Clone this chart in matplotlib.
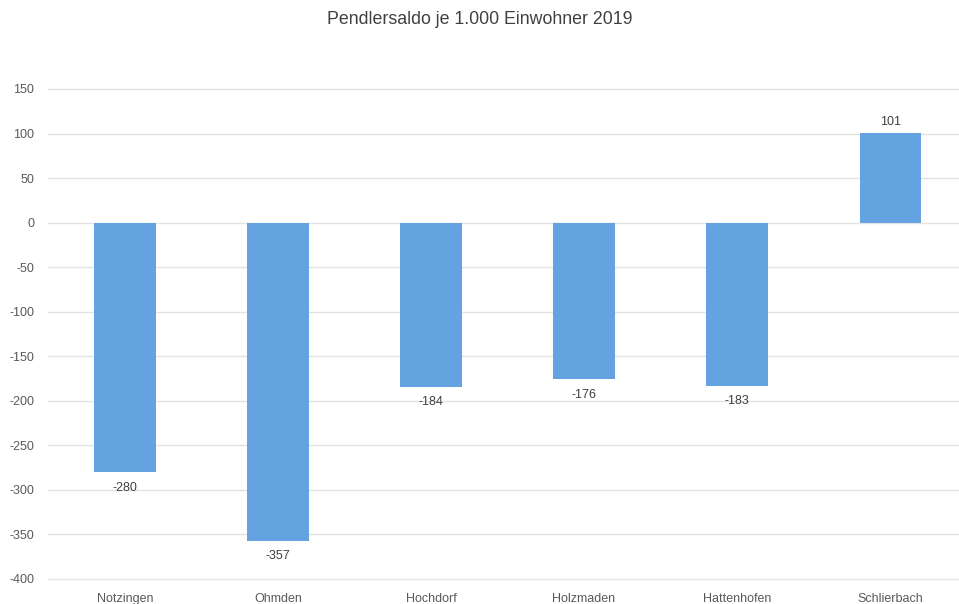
import numpy as np
import matplotlib.pyplot as plt

plt.rcParams['font.family'] = ['Liberation Sans', 'DejaVu Sans']
plt.rcParams['axes.unicode_minus'] = False

# Daten
orte = ['Notzingen', 'Ohmden', 'Hochdorf', 'Holzmaden', 'Hattenhofen', 'Schlierbach']
saldo = [-280, -357, -184, -176, -183, 101]
y_ticks = list(range(-400, 151, 50))

fig = plt.figure(figsize=(9.59, 6.04), dpi=100)
ax = fig.add_axes([0.05, 0.0414, 0.95, 0.8113])

x = np.arange(len(orte))
bars = ax.bar(x, saldo, width=0.4, color='#64a3df', zorder=3)

for xi, v in zip(x, saldo):
    if v < 0:
        ax.annotate(str(v), (xi, v), xytext=(0, -7), textcoords='offset points',
                    ha='center', va='top', fontsize=9, color='#404040')
    else:
        ax.annotate(str(v), (xi, v), xytext=(0, 3), textcoords='offset points',
                    ha='center', va='bottom', fontsize=9, color='#404040')

ax.set_ylim(-400, 150)
ax.set_xlim(-0.503, 5.45)
ax.set_yticks(y_ticks)
ax.set_xticks(x)
ax.set_xticklabels(orte)
ax.grid(axis='y', color='#e3e3e3', linewidth=1, zorder=0)
for gl in ax.get_ygridlines():
    gl.set_clip_on(False)
for s in ax.spines.values():
    s.set_visible(False)
ax.tick_params(axis='both', length=0, labelsize=9, labelcolor='#595959')
ax.tick_params(axis='y', pad=10)
ax.tick_params(axis='x', pad=10)

fig.text(0.5, 1 - 19 / 604, 'Pendlersaldo je 1.000 Einwohner 2019', ha='center', va='center',
         fontsize=12.8, color='#404040')

fig.savefig('out.png', dpi=100)
